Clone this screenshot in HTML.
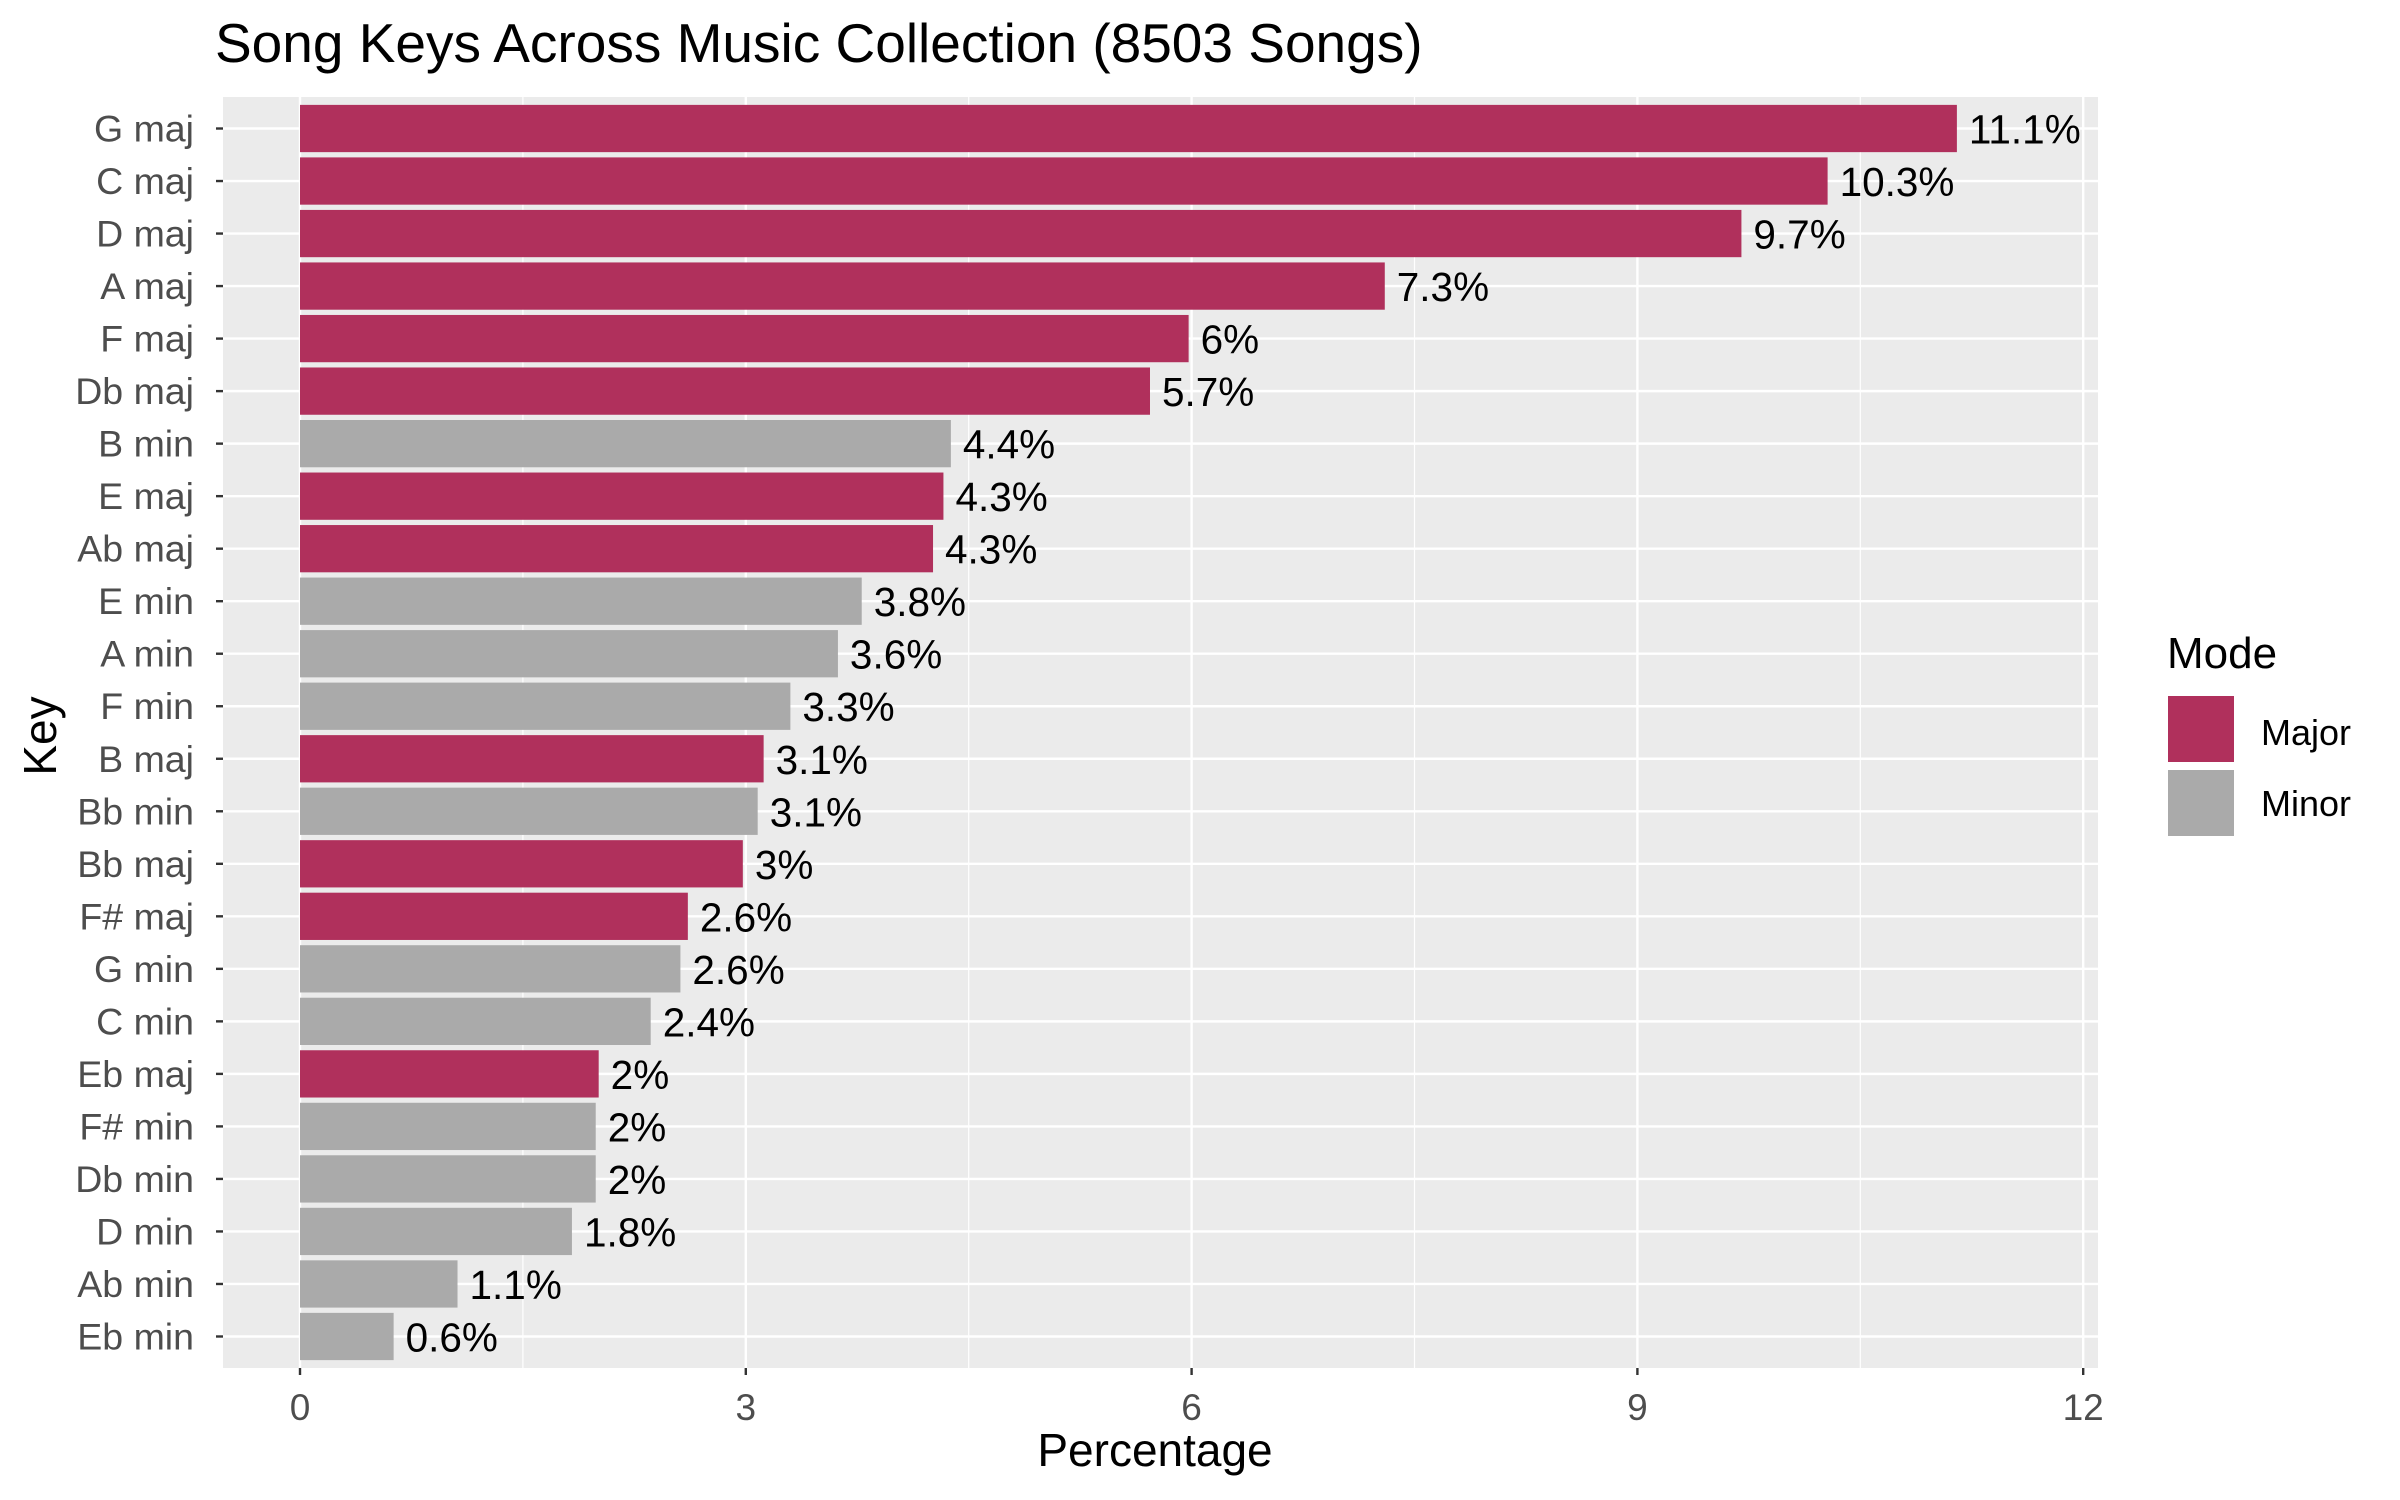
<!DOCTYPE html>
<html><head><meta charset="utf-8"><style>
html,body{margin:0;padding:0;background:#fff;}
svg{display:block;font-family:"Liberation Sans",Arial,sans-serif;}
</style></head><body>
<svg id="chart" width="2400" height="1500" viewBox="0 0 2400 1500">
<text x="215" y="62" font-size="55" fill="#000">Song Keys Across Music Collection (8503 Songs)</text>
<rect x="223" y="97" width="1875" height="1271" fill="#EBEBEB"/>
<g id="grid"></g><g id="bars"></g><g id="labels"></g><g id="axes"></g>
<text x="1155" y="1466" font-size="46" text-anchor="middle" fill="#000">Percentage</text>
<text transform="translate(56,736) rotate(-90)" font-size="46" text-anchor="middle" fill="#000">Key</text>
<g>
<text x="2167" y="668" font-size="44" fill="#000">Mode</text>
<rect x="2168" y="696" width="66" height="66" fill="#B0305C"/>
<text x="2261" y="745" font-size="36" fill="#000">Major</text>
<rect x="2168" y="770" width="66" height="66" fill="#AAAAAA"/>
<text x="2261" y="816" font-size="36" fill="#000">Minor</text>
</g>
</svg>
<script>
const categories = ["G maj","C maj","D maj","A maj","F maj","Db maj","B min","E maj","Ab maj","E min","A min","F min","B maj","Bb min","Bb maj","F# maj","G min","C min","Eb maj","F# min","Db min","D min","Ab min","Eb min"];
const values = [11.15,10.28,9.70,7.30,5.98,5.72,4.38,4.33,4.26,3.78,3.62,3.30,3.12,3.08,2.98,2.61,2.56,2.36,2.01,1.99,1.99,1.83,1.06,0.63];
const valueLabels = ["11.1%","10.3%","9.7%","7.3%","6%","5.7%","4.4%","4.3%","4.3%","3.8%","3.6%","3.3%","3.1%","3.1%","3%","2.6%","2.6%","2.4%","2%","2%","2%","1.8%","1.1%","0.6%"];
const modes = ["Major","Major","Major","Major","Major","Major","Minor","Major","Major","Minor","Minor","Minor","Major","Minor","Major","Major","Minor","Minor","Major","Minor","Minor","Minor","Minor","Minor"];
const xTicks = [0,3,6,9,12];
const xMinor = [1.5,4.5,7.5,10.5];

const NS="http://www.w3.org/2000/svg";
const PL=223, PR=2098, PT=97, PB=1368;
function xs(v){return 300 + v*148.6;}
const step=(PB-PT)/(categories.length+0.2);
function ys(i){return PT + step*(0.6+i);}
function mk(t,a,p){const e=document.createElementNS(NS,t);for(const k in a)e.setAttribute(k,a[k]);p.appendChild(e);return e;}
const grid=document.getElementById('grid'),bars=document.getElementById('bars'),labels=document.getElementById('labels'),axes=document.getElementById('axes');
xMinor.forEach(v=>{const l=mk('line',{x1:xs(v),x2:xs(v),y1:PT,y2:PB,stroke:'#fff','stroke-width':1.2},grid);

});
xTicks.forEach(v=>{const l=mk('line',{x1:xs(v),x2:xs(v),y1:PT,y2:PB,stroke:'#fff','stroke-width':2.4},grid);


const t=mk('line',{x1:xs(v),x2:xs(v),y1:PB,y2:PB+7,stroke:'#333','stroke-width':2.4},axes);


const tx=mk('text',{x:xs(v),y:1420,'font-size':37,'text-anchor':'middle',fill:'#4D4D4D'},axes);tx.textContent=v;

});
categories.forEach((c,i)=>{const y=ys(i);
const g=mk('line',{x1:PL,x2:PR,y1:y,y2:y,stroke:'#fff','stroke-width':2.4},grid);


const b=mk('rect',{x:xs(0),y:y-step*0.45,width:xs(values[i])-xs(0),height:step*0.9,fill:modes[i]==='Major'?'#B0305C':'#AAAAAA'},bars);


const vl=mk('text',{x:xs(values[i])+12,y:y+15,'font-size':40.5,fill:'#000'},labels);vl.textContent=valueLabels[i];


const t=mk('line',{x1:PL-7,x2:PL,y1:y,y2:y,stroke:'#333','stroke-width':2.4},axes);


const tl=mk('text',{x:194,y:y+13,'font-size':37.5,'text-anchor':'end',fill:'#4D4D4D'},axes);tl.textContent=c;

});
</script>
</body></html>
